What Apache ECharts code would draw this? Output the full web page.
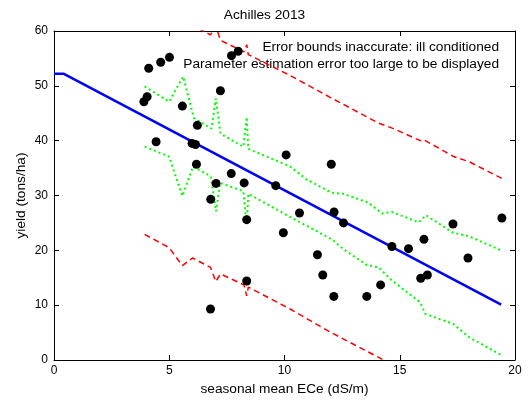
<!DOCTYPE html>
<html>
<head>
<meta charset="utf-8">
<script src="https://cdn.jsdelivr.net/npm/echarts@6/dist/echarts.min.js"></script>
<style>html,body{margin:0;padding:0;background:#fff;}#c{width:529px;height:401px;}</style>
</head>
<body>
<div id="c"></div>
<script>
// observed data
var obsX = [3.90,4.04,4.11,4.63,5.01,4.43,5.57,7.22,7.70,7.99,6.22,5.99,6.14,6.18,7.69,8.25,7.03,9.62,10.07,6.80,8.36,8.36,6.79,9.95,10.65,12.15,12.03,12.56,11.43,11.66,12.14,13.57,14.17,14.66,15.38,16.05,15.91,16.20,17.31,17.96,19.43];
var obsY = [47.1,48.0,53.2,54.3,55.2,39.8,46.3,49.1,55.5,56.3,42.8,39.5,39.3,35.7,34.0,32.3,32.2,31.8,37.4,29.3,25.6,14.4,9.3,23.2,26.8,27.0,35.7,25.0,19.2,15.5,11.6,11.6,13.7,20.7,20.3,22.0,14.9,15.5,24.8,18.6,25.9];
// fitted model
var fitX = [0,0.43,19.40];
var fitY = [52.2,52.2,10.1];
// confidence bounds (green dotted)
var ciUpX = [3.93,4.99,5.60,6.07,6.83,7.02,7.22,8.21,8.36,8.43,10.24,10.96,12.05,12.56,13.64,14.23,14.66,15.82,16.14,17.31,17.99,19.44];
var ciUpY = [49.9,47.1,51.7,44.1,42.2,47.7,41.3,38.9,44.3,38.5,35.3,32.9,30.5,30.3,28.7,26.7,27.0,25.1,26.4,23.2,22.6,19.9];
var ciLoX = [3.93,4.99,5.57,6.03,6.80,7.03,7.20,8.21,8.36,8.43,10.24,12.05,12.56,13.57,14.08,14.66,15.89,16.11,17.31,17.99,19.44];
var ciLoY = [38.9,37.1,29.9,35.3,33.5,27.1,32.3,30.8,24.7,30.3,26.1,22.0,20.2,17.3,16.9,14.5,10.5,8.4,6.6,4.2,0.8];
// prediction bounds (red dashed)
var piUpX = [3.93,4.99,5.57,6.01,6.79,7.02,7.22,8.24,8.36,8.43,10.24,11.98,14.08,14.73,15.89,16.03,17.34,17.99,19.44];
var piUpY = [65.9,63.5,64.4,61.0,59.3,60.9,58.3,56.2,57.5,55.7,51.9,47.9,43.2,42.2,40.0,40.2,37.1,36.2,33.1];
var piLoX = [3.93,4.99,5.57,6.01,6.79,7.02,7.22,8.24,8.36,8.43,10.24,11.98,14.30,15.89,17.34,19.44];
var piLoY = [22.9,20.5,17.2,18.6,16.9,14.3,15.7,13.7,11.7,13.3,9.3,5.1,0.0,-3.4,-6.6,-11.6];
// axes
var xTicks = [0,5,10,15,20];
var yTicks = [0,10,20,30,40,50,60];
var titleText = 'Achilles 2013';
var xName = 'seasonal mean ECe (dS/m)';
var yName = 'yield (tons/ha)';
var note1 = 'Error bounds inaccurate: ill conditioned';
var note2 = 'Parameter estimation error too large to be displayed';

function zip(a,b){return a.map(function(v,i){return [v,b[i]];});}
var FONT = 'Liberation Sans, Arial, sans-serif';
var chart = echarts.init(document.getElementById('c'), null, {renderer:'canvas'});
var axisCommon = {
  axisLine:{show:true,onZero:false,lineStyle:{color:'#000',width:1}},
  axisTick:{show:true,inside:true,length:5,lineStyle:{color:'#000'}},
  splitLine:{show:false}
};
chart.setOption({
  animation:false,
  backgroundColor:'#fff',
  title:{text:titleText,left:'center',top:3,textStyle:{fontFamily:FONT,fontSize:13.7,fontWeight:'normal',color:'#000'}},
  grid:{left:54,right:14,top:31,bottom:39,containLabel:false},
  xAxis:[
    Object.assign({type:'value',min:xTicks[0],max:xTicks[xTicks.length-1],interval:5,position:'bottom',
      name:xName,nameLocation:'middle',nameGap:22,
      nameTextStyle:{fontFamily:FONT,fontSize:13.7,color:'#000'},
      axisLabel:{fontFamily:FONT,fontSize:12,color:'#000',margin:5}},axisCommon),
    Object.assign({type:'value',min:xTicks[0],max:xTicks[xTicks.length-1],interval:5,position:'top',
      axisLabel:{show:false}},axisCommon)
  ],
  yAxis:[
    Object.assign({type:'value',min:yTicks[0],max:yTicks[yTicks.length-1],interval:10,position:'left',
      name:yName,nameLocation:'middle',nameGap:26,nameMoveOverlap:false,
      nameTextStyle:{fontFamily:FONT,fontSize:13.7,color:'#000'},
      axisLabel:{fontFamily:FONT,fontSize:12,color:'#000',margin:6}},axisCommon),
    Object.assign({type:'value',min:yTicks[0],max:yTicks[yTicks.length-1],interval:10,position:'right',
      axisLabel:{show:false}},axisCommon)
  ],
  graphic:[
    {type:'text',right:30,top:40,z:1,style:{text:note1,fontFamily:FONT,fontSize:13.7,fill:'#000',textAlign:'right'}},
    {type:'text',right:30,top:57,z:1,style:{text:note2,fontFamily:FONT,fontSize:13.7,fill:'#000',textAlign:'right'}}
  ],
  series:[
    {type:'line',data:zip(piUpX,piUpY),showSymbol:false,clip:true,lineStyle:{color:'#ff0000',width:1.5,type:[6,4]},z:2},
    {type:'line',data:zip(piLoX,piLoY),showSymbol:false,clip:true,lineStyle:{color:'#ff0000',width:1.5,type:[6,4]},z:2},
    {type:'line',data:zip(ciUpX,ciUpY),showSymbol:false,clip:true,lineStyle:{color:'#00ff00',width:2,type:[2,3]},z:2},
    {type:'line',data:zip(ciLoX,ciLoY),showSymbol:false,clip:true,lineStyle:{color:'#00ff00',width:2,type:[2,3]},z:2},
    {type:'line',data:zip(fitX,fitY),showSymbol:false,clip:true,lineStyle:{color:'#0000ff',width:2.5},z:3},
    {type:'scatter',data:zip(obsX,obsY),symbol:'circle',symbolSize:9,itemStyle:{color:'#000',opacity:1},z:4}
  ]
});
</script>
</body>
</html>
